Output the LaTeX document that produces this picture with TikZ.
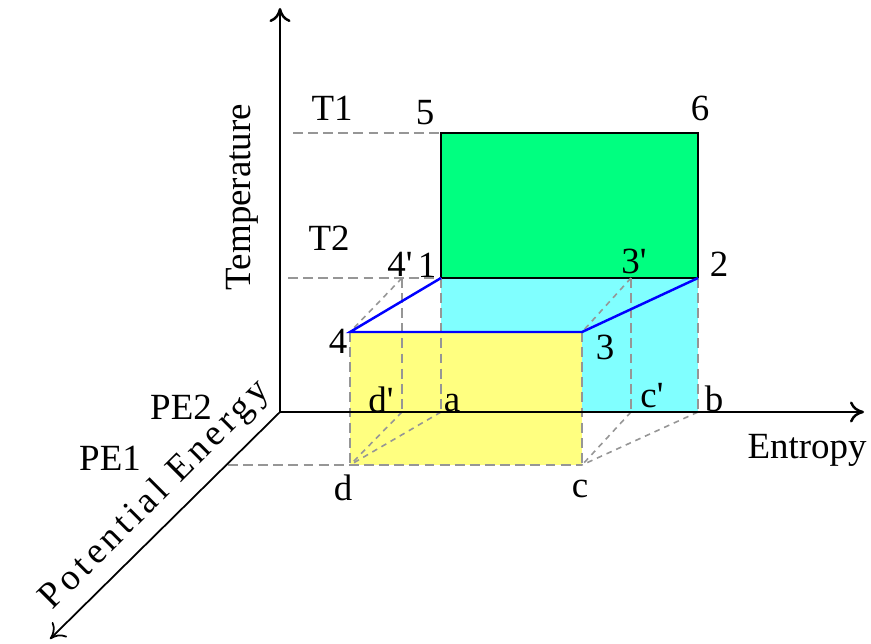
\documentclass[tikz,border=0pt]{standalone}
\usepackage{fontspec}
\setmainfont{Liberation Serif}
\usetikzlibrary{arrows.meta}

\definecolor{greenface}{RGB}{0,255,128}
\definecolor{cyanface}{RGB}{128,255,255}
\definecolor{yellowface}{RGB}{255,255,128}
\definecolor{guidegray}{RGB}{150,150,150}

\begin{document}
\begin{tikzpicture}[
  x=0.01cm, y=-0.01cm,
  every node/.style={font=\fontsize{10.5}{12}\selectfont, inner sep=0pt},
  axis/.style={draw, line width=0.7pt, -{To[length=4pt,width=6pt]}},
  guide/.style={draw=guidegray, line width=0.6pt, dash pattern=on 2.8pt off 1.5pt},
  slant/.style={guide, line width=0.45pt, dash pattern=on 1.6pt off 1.4pt},
  bluepath/.style={draw=blue, line width=0.7pt}
]
  \useasboundingbox (0,0) rectangle (871,643);

  % axes and corner points
  \coordinate (O) at (280,412);
  \coordinate (Ttop) at (280,8);
  \coordinate (Sright) at (864,412);
  \coordinate (PEend) at (50,639);
  \coordinate (p5) at (441,133);
  \coordinate (p6) at (698,133);
  \coordinate (p1) at (441,278);
  \coordinate (p2) at (698,278);
  \coordinate (p4) at (350,332);
  \coordinate (p3) at (582,332);
  \coordinate (pa) at (441,412);
  \coordinate (pb) at (698,412);
  \coordinate (pd) at (350,465);
  \coordinate (pc) at (582,465);
  \coordinate (p4p) at (402,278);
  \coordinate (pdp) at (402,412);
  \coordinate (p3p) at (631,278);
  \coordinate (pcp) at (631,412);
  \coordinate (t1) at (293,133);
  \coordinate (t2) at (288,278);
  \coordinate (pe1) at (228,465);

  % faces
  \fill[cyanface] (pa) rectangle (p2);
  \filldraw[fill=greenface, line width=0.7pt] (p1) rectangle (p6);
  \fill[yellowface] (pd) rectangle (p3);

  % guide lines
  \draw[guide] (t1) -- (p5);
  \draw[guide] (t2) -- (p1);
  \draw[guide] (pe1) -- (pd) -- (pc);
  \draw[guide] (p4) -- (pd);
  \draw[guide] (p1) -- (pa);
  \draw[guide] (p4p) -- (pdp);
  \draw[guide] (p3) -- (pc);
  \draw[guide] (p3p) -- (pcp);
  \draw[guide] (p2) -- (pb);
  \draw[slant] (p4p) -- (p4);
  \draw[slant] (pdp) -- (pd);
  \draw[slant] (pa) -- (pd);
  \draw[slant] (p3p) -- (p3);
  \draw[slant] (pcp) -- (pc);
  \draw[slant] (pb) -- (pc);

  \draw[bluepath] (p1) -- (p4) -- (p3) -- (p2);

  \draw[axis] (O) -- (Ttop);
  \draw[axis] (O) -- (Sright);
  \draw[axis, line width=0.5pt] (O) -- (PEend);

  % labels
  \node (lT1) at (332,108) {T1};
  \node (lT2) at (329,238) {T2};
  \node (l5) at (425,113) {5};
  \node (l6) at (700,108) {6};
  \node (l4p) at (400,264) {4\textquotesingle};
  \node (l1) at (427,265) {1};
  \node (l3p) at (634,261) {3\textquotesingle};
  \node (l2) at (719,264) {2};
  \node (l4) at (338,341) {4};
  \node (l3) at (605,347) {3};
  \node (ldp) at (381,400) {d\textquotesingle};
  \node (la) at (452,403) {a};
  \node (lcp) at (652,396) {c\textquotesingle};
  \node (lb) at (714,399) {b};
  \node (ld) at (343,488) {d};
  \node (lc) at (580,489) {c};
  \node (lPE2) at (181,407) {PE2};
  \node (lPE1) at (110,458) {PE1};
  \node (lS) at (807,450) {Entropy};
  \node[rotate=90] (lT) at (242,197) {Temperature};
  \node[rotate=45, anchor=south] (lPE) at (168,508)
    {\addfontfeature{LetterSpace=12}Potential Energy};
\end{tikzpicture}
\end{document}
